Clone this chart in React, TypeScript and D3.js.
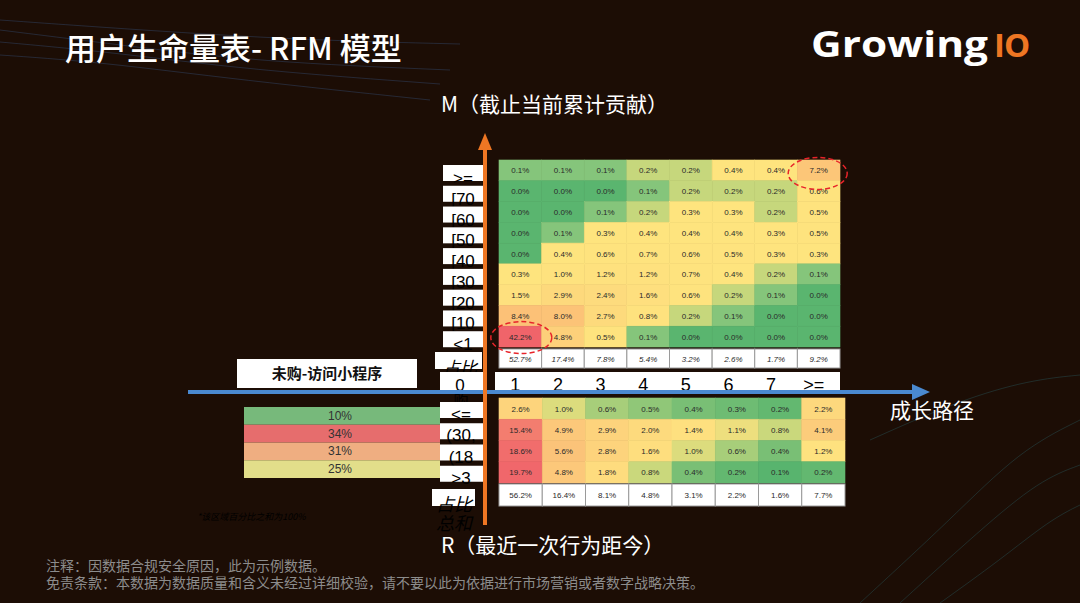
import * as d3 from 'd3';
import { useEffect } from 'react';

// column header (成长路径)
const colLabels = ['1', '2', '3', '4', '5', '6', '7', '>='];

// upper block: M (截止当前累计贡献)
const upperRows = ['>=', '[70', '[60', '[50', '[40', '[30', '[20', '[10', '<1'];
const upperValues = [
	[0.1, 0.1, 0.1, 0.2, 0.2, 0.4, 0.4, 7.2],
	[0.0, 0.0, 0.0, 0.1, 0.2, 0.2, 0.2, 0.6],
	[0.0, 0.0, 0.1, 0.2, 0.3, 0.3, 0.2, 0.5],
	[0.0, 0.1, 0.3, 0.4, 0.4, 0.4, 0.3, 0.5],
	[0.0, 0.4, 0.6, 0.7, 0.6, 0.5, 0.3, 0.3],
	[0.3, 1.0, 1.2, 1.2, 0.7, 0.4, 0.2, 0.1],
	[1.5, 2.9, 2.4, 1.6, 0.6, 0.2, 0.1, 0.0],
	[8.4, 8.0, 2.7, 0.8, 0.2, 0.1, 0.0, 0.0],
	[42.2, 4.8, 0.5, 0.1, 0.0, 0.0, 0.0, 0.0],
];
const upperShare = [52.7, 17.4, 7.8, 5.4, 3.2, 2.6, 1.7, 9.2];

// lower block: R (最近一次行为距今)
const lowerRows = ['<=', '(30,', '(18', '>3'];
const lowerValues = [
	[2.6, 1.0, 0.6, 0.5, 0.4, 0.3, 0.2, 2.2],
	[15.4, 4.9, 2.9, 2.0, 1.4, 1.1, 0.8, 4.1],
	[18.6, 5.6, 2.8, 1.6, 1.0, 0.6, 0.4, 1.2],
	[19.7, 4.8, 1.8, 0.8, 0.4, 0.2, 0.1, 0.2],
];
const lowerShare = [56.2, 16.4, 8.1, 4.8, 3.1, 2.2, 1.6, 7.7];

// left summary (未购-访问小程序)
const legendLabels = ['10%', '34%', '31%', '25%'];
const legendColors = ['#77b97b', '#e66d6d', '#efae81', '#e2de8a'];

const BG = '#1c0d05';
const ORANGE = '#ee7623';
const BLUE = '#4a89d0';
const NUM_FONT = '"Liberation Sans", Arial, sans-serif';
const CJK_FONT = '"Noto Sans CJK SC", "Noto Sans", sans-serif';

const upperColor = d3.scaleLinear<string>()
	.domain([0, 0.1, 0.2, 0.3, 1.2, 3, 8.4, 42.2])
	.range(['#5ab56f', '#85c57b', '#c6d77c', '#fee47e', '#fee17e', '#fdd87c', '#fcc177', '#f0646a'])
	.clamp(true);

const lowerColor = d3.scaleLinear<string>()
	.domain([0.1, 0.2, 0.4, 0.6, 0.8, 1.0, 1.2, 2.5, 5, 15, 19.7])
	.range(['#58b46e', '#63b870', '#79bf75', '#a7ce7a', '#cad87c', '#dcdc7d', '#fee27f', '#fdd57c', '#fcc77a', '#f37f6f', '#f0676b'])
	.clamp(true);

const fmt = (v: number) => v.toFixed(1) + '%';

// faint background streaks (decoration only)
const streaks: [number, number][][] = [
	[[0, 30], [120, 45], [260, 62], [450, 70]],
	[[0, 42], [110, 52], [250, 70], [440, 84]],
	[[0, 55], [100, 62], [240, 80], [430, 100]],
	[[0, 20], [140, 30], [300, 40], [460, 44]],
	[[860, 603], [950, 520], [1020, 450], [1080, 420]],
	[[900, 603], [980, 530], [1040, 480], [1080, 465]],
	[[940, 603], [1000, 560], [1050, 520], [1080, 505]],
	[[870, 440], [960, 400], [1030, 380], [1080, 375]],
];

export default function App() {
	useEffect(() => {
		document.body.style.margin = '0';
		document.body.style.background = BG;
	}, []);

	const xUp = d3.scaleBand().domain(colLabels).range([499, 840]);
	const yUp = d3.scaleBand().domain(upperRows).range([160, 347]);
	const xLow = d3.scaleBand().domain(colLabels).range([499, 845]);
	const yLow = d3.scaleBand().domain(lowerRows).range([398, 483]);
	const yLegend = d3.scaleBand().domain(legendLabels).range([407, 478]);

	const line = d3.line().curve(d3.curveBasis);

	const upShareTop = 349, upShareH = 19;
	const lowShareTop = 484, lowShareH = 22;
	const axisY = 392;
	const axisX = 485;

	return (
		<svg width={1080} height={603} style={{ display: 'block', background: BG }}>
			<rect width={1080} height={603} fill={BG} />
			<g fill="none">
				{streaks.map((pts, i) => (
					<path key={i} d={line(pts) || ''}
						stroke={i < 4 ? '#3f6fb0' : '#2f7f8a'} strokeOpacity={0.28} strokeWidth={1} />
				))}
			</g>

			{/* title and logo */}
			<text x={65} y={60} fill="#fff" fontFamily={CJK_FONT} fontWeight={500} fontSize={31}>用户生命量表- RFM 模型</text>
			<text x={811} y={57} fill="#fff" fontFamily='"Open Sans", sans-serif' fontWeight={700} fontSize={35}
				textLength={177} lengthAdjust="spacingAndGlyphs">Growing</text>
			<text x={994} y={57} fill={ORANGE} fontFamily='"Open Sans", sans-serif' fontWeight={700} fontSize={33}
				letterSpacing={-1}>IO</text>

			{/* upper heatmap */}
			{upperValues.map((row, r) => row.map((v, c) => (
				<g key={`u${r}-${c}`}>
					<rect x={xUp(colLabels[c])} y={yUp(upperRows[r])} width={xUp.bandwidth()} height={yUp.bandwidth()}
						fill={upperColor(v)} stroke={upperColor(v)} strokeWidth={0.6} />
					<text x={(xUp(colLabels[c]) || 0) + xUp.bandwidth() / 2} y={(yUp(upperRows[r]) || 0) + yUp.bandwidth() / 2 + 3}
						textAnchor="middle" fontFamily={NUM_FONT} fontSize={8} fill="#2a2a2a">{fmt(v)}</text>
				</g>
			)))}
			{upperShare.map((v, c) => (
				<g key={`us${c}`}>
					<rect x={xUp(colLabels[c])} y={upShareTop} width={xUp.bandwidth()} height={upShareH}
						fill="#fff" stroke="#9a9a9a" strokeWidth={1} />
					<text x={(xUp(colLabels[c]) || 0) + xUp.bandwidth() / 2} y={upShareTop + upShareH / 2 + 3}
						textAnchor="middle" fontFamily={NUM_FONT} fontSize={8} fontStyle="italic" fill="#2a2a2a">{fmt(v)}</text>
				</g>
			))}

			{/* upper row labels */}
			{upperRows.map((lab) => {
				const y0 = (yUp(lab) || 0) + 5;
				return (
					<g key={`ul${lab}`}>
						<rect x={443} y={y0} width={40} height={16} fill="#fff" />
						<text x={463} y={y0 + 19} textAnchor="middle" fontFamily={NUM_FONT} fontSize={17} fill="#000">{lab}</text>
					</g>
				);
			})}
			<rect x={435} y={352} width={47} height={17} fill="#fff" />
			<text x={460} y={374} textAnchor="middle" fontFamily={CJK_FONT} fontSize={17} fontStyle="italic" fill="#000">占比</text>

			{/* column header bar */}
			<rect x={440} y={372} width={43} height={18} fill="#fff" />
			<text x={460} y={391} textAnchor="middle" fontFamily={NUM_FONT} fontSize={17} fill="#000">0</text>
			<rect x={495} y={372} width={345} height={18} fill="#fff" />
			{colLabels.map((lab) => (
				<text key={`cl${lab}`} x={(xUp(lab) || 0) + xUp.bandwidth() / 2 - 5} y={391} textAnchor="middle"
					fontFamily={NUM_FONT} fontSize={18} fill="#000">{lab}</text>
			))}

			{/* 未购 box */}
			<rect x={237} y={359} width={180} height={29} fill="#fff" />
			<text x={327} y={379} textAnchor="middle" fontFamily={CJK_FONT} fontWeight={700} fontSize={15} fill="#111">未购-访问小程序</text>

			{/* lower heatmap */}
			{lowerValues.map((row, r) => row.map((v, c) => (
				<g key={`l${r}-${c}`}>
					<rect x={xLow(colLabels[c])} y={yLow(lowerRows[r])} width={xLow.bandwidth()} height={yLow.bandwidth()}
						fill={lowerColor(v)} stroke={lowerColor(v)} strokeWidth={0.6} />
					<text x={(xLow(colLabels[c]) || 0) + xLow.bandwidth() / 2} y={(yLow(lowerRows[r]) || 0) + yLow.bandwidth() / 2 + 3}
						textAnchor="middle" fontFamily={NUM_FONT} fontSize={8} fill="#2a2a2a">{fmt(v)}</text>
				</g>
			)))}
			{lowerShare.map((v, c) => (
				<g key={`ls${c}`}>
					<rect x={xLow(colLabels[c])} y={lowShareTop} width={xLow.bandwidth()} height={lowShareH}
						fill="#fff" stroke="#9a9a9a" strokeWidth={1} />
					<text x={(xLow(colLabels[c]) || 0) + xLow.bandwidth() / 2} y={lowShareTop + lowShareH / 2 + 3}
						textAnchor="middle" fontFamily={NUM_FONT} fontSize={8} fill="#2a2a2a">{fmt(v)}</text>
				</g>
			))}

			{/* lower row labels */}
			<text x={461} y={406} textAnchor="middle" fontFamily={CJK_FONT} fontSize={15} fill="#000">购</text>
			{lowerRows.map((lab) => {
				const y0 = (yLow(lab) || 0) + 4;
				return (
					<g key={`ll${lab}`}>
						<rect x={440} y={y0} width={43} height={16} fill="#fff" />
						<text x={461} y={y0 + 18} textAnchor="middle" fontFamily={NUM_FONT} fontSize={17} fill="#000">{lab}</text>
					</g>
				);
			})}
			<rect x={432} y={489} width={43} height={17} fill="#fff" />
			<text x={454} y={511} textAnchor="middle" fontFamily={CJK_FONT} fontSize={18} fontStyle="italic" fill="#000">占比</text>
			<text x={454} y={530} textAnchor="middle" fontFamily={CJK_FONT} fontSize={18} fontStyle="italic" fill="#000">总和</text>

			{/* left summary bars */}
			{legendLabels.map((lab, i) => (
				<g key={`lg${lab}`}>
					<rect x={244} y={yLegend(lab)} width={196} height={yLegend.bandwidth()} fill={legendColors[i]} />
					<text x={340} y={(yLegend(lab) || 0) + yLegend.bandwidth() / 2 + 4} textAnchor="middle"
						fontFamily={NUM_FONT} fontSize={12} fill="#333">{lab}</text>
				</g>
			))}
			<text x={197} y={520} fontFamily={CJK_FONT} fontSize={9} fontStyle="italic" fill="#000">*该区域百分比之和为100%</text>

			{/* red dashed highlights */}
			<ellipse cx={(xUp('>=') || 0) + xUp.bandwidth() / 2 - 1} cy={(yUp('>=') || 0) + yUp.bandwidth() / 2 + 3}
				rx={29.5} ry={16} fill="none" stroke="#e8242a" strokeWidth={1.5} strokeDasharray="5,3" />
			<ellipse cx={(xUp('1') || 0) + xUp.bandwidth() / 2 + 1} cy={(yUp('<1') || 0) + yUp.bandwidth() / 2 + 1}
				rx={30.5} ry={16} fill="none" stroke="#e8242a" strokeWidth={1.5} strokeDasharray="5,3" />

			{/* axes */}
			<line x1={188} x2={914} y1={axisY} y2={axisY} stroke={BLUE} strokeWidth={4} />
			<path d={`M912,${axisY - 8} L930,${axisY} L912,${axisY + 8} Z`} fill={BLUE} />
			<line x1={axisX} x2={axisX} y1={148} y2={525} stroke={ORANGE} strokeWidth={4} />
			<path d={`M${axisX - 7},150 L${axisX},133 L${axisX + 7},150 Z`} fill={ORANGE} />

			<text x={441} y={112} fill="#fff" fontFamily={CJK_FONT} fontSize={21}>M（截止当前累计贡献）</text>
			<text x={441} y={553} fill="#fff" fontFamily={CJK_FONT} fontSize={21}>R（最近一次行为距今）</text>
			<text x={890} y={418} fill="#fff" fontFamily={CJK_FONT} fontSize={21}>成长路径</text>

			{/* footer */}
			<text x={46} y={571} fill="#8c8c8c" fontFamily={CJK_FONT} fontSize={14}>注释：因数据合规安全原因，此为示例数据。</text>
			<text x={46} y={588} fill="#8c8c8c" fontFamily={CJK_FONT} fontSize={14}>免责条款：本数据为数据质量和含义未经过详细校验，请不要以此为依据进行市场营销或者数字战略决策。</text>
		</svg>
	);
}
